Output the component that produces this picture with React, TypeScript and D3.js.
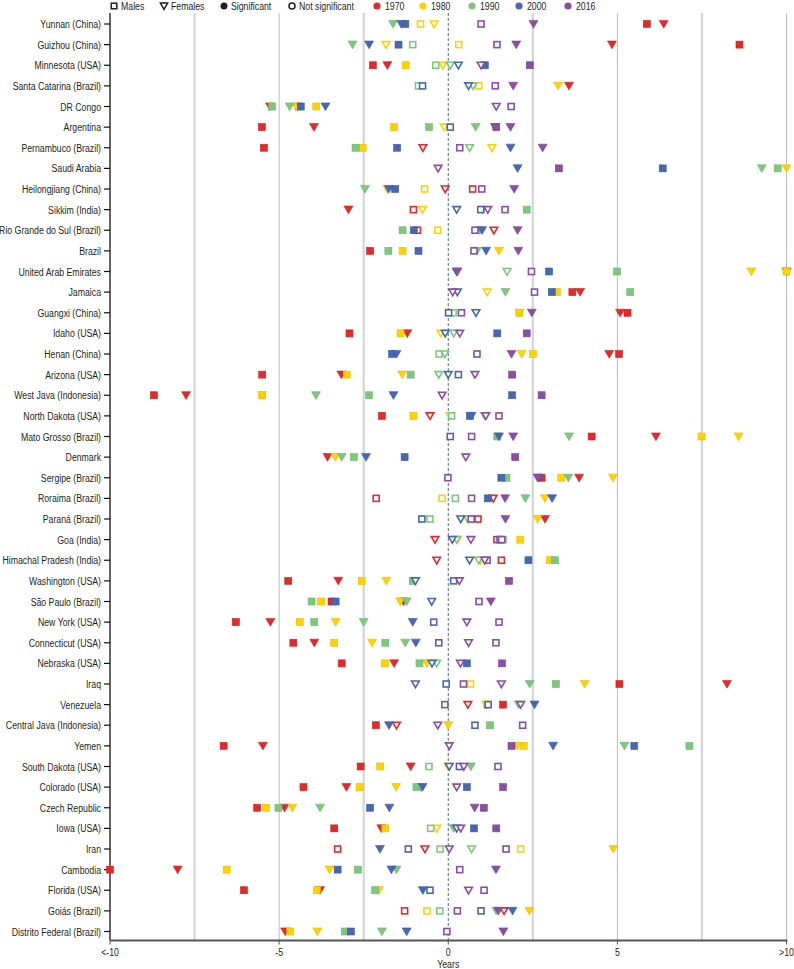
import React from "react";
import * as d3 from "d3";

const regions = [
  "Yunnan (China)", "Guizhou (China)", "Minnesota (USA)", "Santa Catarina (Brazil)", "DR Congo",
  "Argentina", "Pernambuco (Brazil)", "Saudi Arabia", "Heilongjiang (China)", "Sikkim (India)",
  "Rio Grande do Sul (Brazil)", "Brazil", "United Arab Emirates", "Jamaica", "Guangxi (China)",
  "Idaho (USA)", "Henan (China)", "Arizona (USA)", "West Java (Indonesia)", "North Dakota (USA)",
  "Mato Grosso (Brazil)", "Denmark", "Sergipe (Brazil)", "Roraima (Brazil)", "Paraná (Brazil)",
  "Goa (India)", "Himachal Pradesh (India)", "Washington (USA)", "São Paulo (Brazil)", "New York (USA)",
  "Connecticut (USA)", "Nebraska (USA)", "Iraq", "Venezuela", "Central Java (Indonesia)",
  "Yemen", "South Dakota (USA)", "Colorado (USA)", "Czech Republic", "Iowa (USA)",
  "Iran", "Cambodia", "Florida (USA)", "Goiás (Brazil)", "Distrito Federal (Brazil)",
];

const years = ["1970", "1980", "1990", "2000", "2016"];
const yearColors = ["#e2292b", "#ffd200", "#7ec87e", "#4767b2", "#8a4ea3"];

// values (years) per series, null = not shown
const males1970 = [5.87, 8.61, -2.23, null, -4.42, -5.51, -5.45, null, 0.72, -1.03, -0.91, -2.31, null, 3.67, 5.30, -2.92, 5.05, -5.50, -8.70, -1.96, 4.24, null, 2.76, -2.13, 0.88, 1.44, 1.57, -4.73, -3.45, -6.28, -4.58, -3.15, 5.06, 1.62, -2.14, -6.64, -2.59, -4.28, -5.65, -3.37, -3.27, -10, -6.04, -1.29, null];
const males1970Sig = [1, 1, 1, 0, 1, 1, 1, 0, 0, 0, 0, 1, 0, 1, 1, 1, 1, 1, 1, 1, 1, 0, 1, 0, 0, 0, 0, 1, 1, 1, 1, 1, 1, 1, 1, 1, 1, 1, 1, 1, 0, 1, 1, 0, 0];
const females1970 = [6.37, 4.84, -1.80, 3.57, -5.27, -3.97, -0.75, null, -0.09, -2.95, 1.35, null, 10, 3.90, 5.08, -1.21, 4.76, -3.16, -7.75, -0.54, 6.14, -3.57, 3.87, 1.33, 2.86, -0.39, -0.34, -3.25, -1.32, -5.26, -3.96, -1.60, 8.24, 0.58, -1.53, -5.48, -1.11, -3.01, -4.84, -1.98, -0.69, -8.0, -3.79, 1.65, -4.82];
const females1970Sig = [1, 1, 1, 1, 1, 1, 0, 0, 0, 1, 0, 0, 1, 1, 1, 1, 1, 1, 1, 0, 1, 1, 1, 0, 1, 0, 0, 1, 1, 1, 1, 1, 1, 0, 0, 1, 1, 1, 1, 1, 0, 1, 1, 0, 1];
const males1980 = [-0.82, 0.31, -1.26, 0.90, -3.90, -1.60, -2.53, null, -0.70, null, -0.31, -1.35, 10, 3.21, 2.10, -1.41, 2.50, -3.00, -5.50, -1.03, 7.49, null, 3.34, -0.18, 0.65, 2.13, 3.01, -2.56, -3.76, -4.39, -3.37, -1.87, 0.66, 1.15, null, 2.23, -2.01, -2.62, -5.39, -1.86, 2.14, -6.55, -3.88, -0.63, -4.67];
const males1980Sig = [0, 0, 1, 0, 1, 1, 1, 0, 0, 0, 0, 1, 1, 1, 1, 1, 1, 1, 1, 1, 1, 0, 1, 0, 0, 1, 1, 1, 1, 1, 1, 1, 0, 1, 0, 1, 1, 1, 1, 1, 0, 1, 1, 0, 1];
const females1980 = [-0.42, -1.84, -0.16, 3.25, -4.49, -0.12, 1.29, 10, -1.80, -0.76, null, 1.50, 8.96, 1.15, 2.10, -0.22, 2.17, -1.36, -5.50, 0.05, 8.58, -3.34, 4.87, 2.86, 2.64, 0.27, 0.95, -1.83, -1.42, -3.33, -2.25, -0.63, 4.03, 1.12, 0.0, 2.04, 0.0, -1.54, -4.61, -0.34, 4.88, -3.51, -2.05, 2.40, -3.87];
const females1980Sig = [0, 0, 0, 1, 1, 0, 0, 1, 0, 0, 0, 1, 1, 0, 1, 0, 1, 1, 1, 0, 1, 1, 1, 1, 1, 0, 0, 1, 1, 1, 1, 1, 1, 1, 1, 1, 1, 1, 1, 0, 1, 1, 1, 1, 1];
const males1990 = [null, -1.05, -0.37, -0.88, -5.21, -0.57, -2.74, 9.74, null, 2.32, -1.35, -1.77, 4.99, 5.38, 0.15, null, -0.27, -1.11, -2.34, 0.10, 1.45, -2.79, 1.72, 0.21, -0.54, 1.62, 3.16, -1.05, -4.04, -3.96, -1.86, -0.85, 3.18, null, 1.24, 7.13, -0.57, -0.94, -5.02, -0.52, -0.24, -2.67, -2.16, -0.25, -3.06];
const males1990Sig = [0, 0, 0, 0, 1, 1, 1, 1, 0, 1, 1, 1, 1, 1, 0, 0, 0, 1, 1, 0, 1, 1, 1, 0, 0, 0, 1, 1, 1, 1, 1, 1, 1, 0, 1, 1, 0, 1, 1, 0, 0, 1, 1, 0, 1];
const females1990 = [-1.63, -2.83, 0.06, 0.73, -4.69, 0.81, 0.63, 9.27, -2.46, 1.02, 0.93, 0.85, 1.74, 1.69, null, 0.16, -0.10, -0.28, -3.91, 1.08, 3.57, -3.15, 3.55, 2.28, 0.58, 0.25, 0.90, -1.00, -1.23, -2.50, -1.27, -0.34, 2.41, 2.08, null, 5.21, 0.67, -0.80, -3.79, 0.16, 0.69, -1.53, null, 1.42, -1.96];
const females1990Sig = [1, 1, 0, 0, 1, 1, 0, 1, 1, 0, 1, 1, 0, 1, 0, 0, 0, 0, 1, 0, 1, 1, 1, 1, 0, 0, 0, 1, 1, 1, 1, 0, 1, 1, 0, 1, 1, 0, 1, 1, 0, 1, 0, 1, 1];
const males2000 = [-1.27, -1.47, 1.08, -0.76, -4.36, 0.06, -1.51, 6.34, -1.57, 0.96, -1.02, -0.88, 2.98, 3.06, 0.01, 1.45, -1.66, 0.30, 1.89, 0.64, 0.06, -1.29, 1.57, 1.17, -0.78, 1.53, 2.37, 0.16, -3.33, -0.43, -0.28, 0.55, -0.06, 1.18, 0.79, 5.50, 0.33, 0.55, -2.31, 0.76, -1.18, -3.27, -0.54, 0.97, -2.88];
const males2000Sig = [1, 1, 1, 0, 1, 0, 1, 1, 1, 0, 1, 1, 1, 1, 0, 1, 1, 0, 1, 1, 0, 1, 1, 1, 0, 0, 1, 0, 1, 0, 0, 1, 0, 0, 0, 1, 0, 1, 1, 1, 0, 1, 0, 0, 1];
const females2000 = [-1.39, -2.34, 0.30, 0.60, -3.63, 1.38, 1.84, 2.05, -1.76, 0.25, 1.00, 1.12, 0.25, 0.27, 0.82, -0.09, -1.53, 0.0, -1.62, 0.69, 1.50, -2.43, 2.68, 3.07, 0.37, 0.12, 0.63, -0.97, -0.49, -1.05, -0.96, -0.48, -0.97, 2.55, -1.75, 3.10, 0.03, -0.76, -1.74, 0.25, -2.02, -1.68, -0.75, 1.90, -1.23];
const females2000Sig = [1, 1, 0, 0, 1, 1, 1, 1, 1, 0, 1, 1, 0, 0, 0, 0, 1, 0, 1, 1, 1, 1, 1, 1, 0, 0, 0, 0, 0, 1, 1, 0, 0, 1, 1, 1, 0, 1, 1, 0, 1, 1, 1, 1, 1];
const males2016 = [0.97, 1.44, 2.41, 1.39, 1.86, 1.42, 0.34, 3.27, 0.99, 1.68, 0.79, 0.76, 2.46, 2.55, 0.39, 2.32, 0.85, 1.89, 2.76, 1.50, 0.69, 1.98, -0.01, 0.69, 0.68, 1.58, 1.15, 1.80, 0.91, 1.50, 1.41, 1.59, 0.45, -0.10, 2.20, 1.87, 1.47, 1.62, 1.05, 1.42, 1.71, 0.34, 1.06, 0.27, -0.04];
const males2016Sig = [0, 0, 1, 0, 0, 1, 0, 1, 0, 0, 0, 0, 0, 0, 0, 1, 0, 1, 1, 0, 0, 1, 0, 0, 0, 0, 0, 1, 0, 0, 0, 1, 0, 0, 0, 1, 0, 1, 1, 1, 0, 0, 0, 0, 0];
const females2016 = [2.52, 2.01, 0.97, 1.92, 1.42, 1.84, 2.79, -0.30, 1.95, 1.17, 2.05, 2.07, 0.27, 0.13, 2.47, 0.34, 1.87, 0.79, -0.18, 1.11, 1.92, 0.52, 2.64, 1.68, 1.69, 0.67, 1.08, 0.33, 1.26, 0.55, 0.60, 0.36, 1.57, 2.14, -0.31, 0.03, 0.46, 0.25, 0.78, 0.37, 0.03, 1.41, 0.60, 1.48, 1.63];
const females2016Sig = [1, 1, 0, 1, 0, 1, 1, 0, 1, 0, 1, 1, 1, 0, 1, 0, 1, 0, 0, 0, 1, 0, 1, 1, 1, 0, 0, 0, 1, 0, 0, 0, 0, 0, 0, 0, 0, 0, 1, 0, 0, 1, 0, 1, 1];

const xTicks = [-10, -5, 0, 5, 10];
const xTickLabels = ["<-10", "-5", "0", "5", ">10"];
const minorGrid = [-7.5, -2.5, 2.5, 7.5];
const majorGrid = [-5, 5, 10];

const series = [
  { sex: "M", year: 0, v: males1970, s: males1970Sig },
  { sex: "F", year: 0, v: females1970, s: females1970Sig },
  { sex: "M", year: 1, v: males1980, s: males1980Sig },
  { sex: "F", year: 1, v: females1980, s: females1980Sig },
  { sex: "M", year: 2, v: males1990, s: males1990Sig },
  { sex: "F", year: 2, v: females1990, s: females1990Sig },
  { sex: "M", year: 3, v: males2000, s: males2000Sig },
  { sex: "F", year: 3, v: females2000, s: females2000Sig },
  { sex: "M", year: 4, v: males2016, s: males2016Sig },
  { sex: "F", year: 4, v: females2016, s: females2016Sig },
];

const FONT = "'Liberation Sans', Arial, sans-serif";
const SQX = 0.76; // horizontal condensing of the text
const TRI = "M-4.5,-3.6L4.5,-3.6L0,4.2Z";
const TRI_OPEN = "M-3.8,-3L3.8,-3L0,3.6Z";

function CText({ x, y, anchor = "start", size = 11.5, children }) {
  return (
    <text transform={`translate(${x},${y}) scale(${SQX},1)`} textAnchor={anchor} fontSize={size} fill="#231f20">
      {children}
    </text>
  );
}

function Marker({ sex, color, filled }) {
  if (sex === "M") {
    return filled ? (
      <rect x={-3.5} y={-3.5} width={7} height={7} fill={color} stroke={d3.color(color).darker(0.3).toString()} strokeWidth={0.6} />
    ) : (
      <rect x={-3} y={-3} width={6} height={6} fill="#fff" stroke={color} strokeWidth={1.6} />
    );
  }
  return filled ? (
    <path d={TRI} fill={color} stroke={d3.color(color).darker(0.3).toString()} strokeWidth={0.6} />
  ) : (
    <path d={TRI_OPEN} fill="#fff" stroke={color} strokeWidth={1.6} strokeLinejoin="miter" />
  );
}

export default function App() {
  const W = 794, H = 969;
  const left = 110, right = 786.5, top = 13, axisY = 940.5;
  const x = d3.scaleLinear().domain([-10, 10]).range([left, right]);
  const y = d3.scalePoint().domain(regions).range([24, 931.5]);

  const marks = [];
  series.forEach((ser, si) => {
    ser.v.forEach((val, i) => {
      if (val === null || val === undefined) return;
      const cx = x(Math.max(-10, Math.min(10, val)));
      const cy = y(regions[i]);
      marks.push(
        <g key={`${si}-${i}`} transform={`translate(${cx},${cy})`}>
          <Marker sex={ser.sex} color={yearColors[ser.year]} filled={ser.s[i] === 1} />
        </g>
      );
    });
  });

  const legendY = 6;
  const legendItems = [
    { kind: "sq", x: 114, label: "Males" },
    { kind: "tri", x: 164, label: "Females" },
    { kind: "dot", x: 224, label: "Significant" },
    { kind: "ring", x: 292, label: "Not significant" },
  ];
  const yearLegendX = [377, 423, 472, 519, 568];

  return (
    <svg width={W} height={H} style={{ position: "absolute", left: 0, top: 0, background: "#fff" }} fontFamily={FONT}>
      {/* legend */}
      {legendItems.map((it) => (
        <g key={it.label}>
          <g transform={`translate(${it.x},${legendY})`}>
            {it.kind === "sq" && <rect x={-2.8} y={-2.8} width={5.6} height={5.6} fill="#fff" stroke="#231f20" strokeWidth={1.5} />}
            {it.kind === "tri" && <path d="M-3.6,-3L3.6,-3L0,3.4Z" fill="#fff" stroke="#231f20" strokeWidth={1.5} />}
            {it.kind === "dot" && <circle r={3.5} fill="#231f20" />}
            {it.kind === "ring" && <circle r={3} fill="#fff" stroke="#231f20" strokeWidth={1.5} />}
          </g>
          <CText x={it.x + 7} y={legendY + 4}>{it.label}</CText>
        </g>
      ))}
      {years.map((yr, i) => (
        <g key={yr}>
          <circle cx={yearLegendX[i]} cy={legendY} r={3.6} fill={yearColors[i]} />
          <CText x={yearLegendX[i] + 8} y={legendY + 4}>{yr}</CText>
        </g>
      ))}

      {/* grid */}
      {minorGrid.map((g) => (
        <line key={g} x1={x(g)} x2={x(g)} y1={top} y2={axisY} stroke="#d2d5d9" strokeWidth={2.2} />
      ))}
      {majorGrid.map((g) => (
        <line key={g} x1={x(g)} x2={x(g)} y1={top} y2={axisY} stroke="#b9bdc2" strokeWidth={1} />
      ))}
      <line x1={x(0)} x2={x(0)} y1={top} y2={axisY} stroke="#3d5a80" strokeWidth={0.9} strokeDasharray="3,2" />

      {/* y axis */}
      <line x1={left} x2={left} y1={top} y2={axisY} stroke="#111" strokeWidth={1.3} />
      {regions.map((r) => (
        <g key={r}>
          <line x1={left - 6} x2={left} y1={y(r)} y2={y(r)} stroke="#111" strokeWidth={1.2} />
          <CText x={left - 9} y={y(r) + 4} anchor="end">{r}</CText>
        </g>
      ))}

      {/* x axis */}
      <line x1={left} x2={right + 1} y1={axisY} y2={axisY} stroke="#555" strokeWidth={2} />
      {xTicks.map((t, i) => (
        <g key={t}>
          <line x1={x(t)} x2={x(t)} y1={axisY} y2={axisY + 4} stroke="#555" strokeWidth={1} />
          <CText x={x(t)} y={axisY + 15.5} anchor="middle">{xTickLabels[i]}</CText>
        </g>
      ))}
      <CText x={x(0)} y={axisY + 27.5} anchor="middle">Years</CText>

      {marks}
    </svg>
  );
}
